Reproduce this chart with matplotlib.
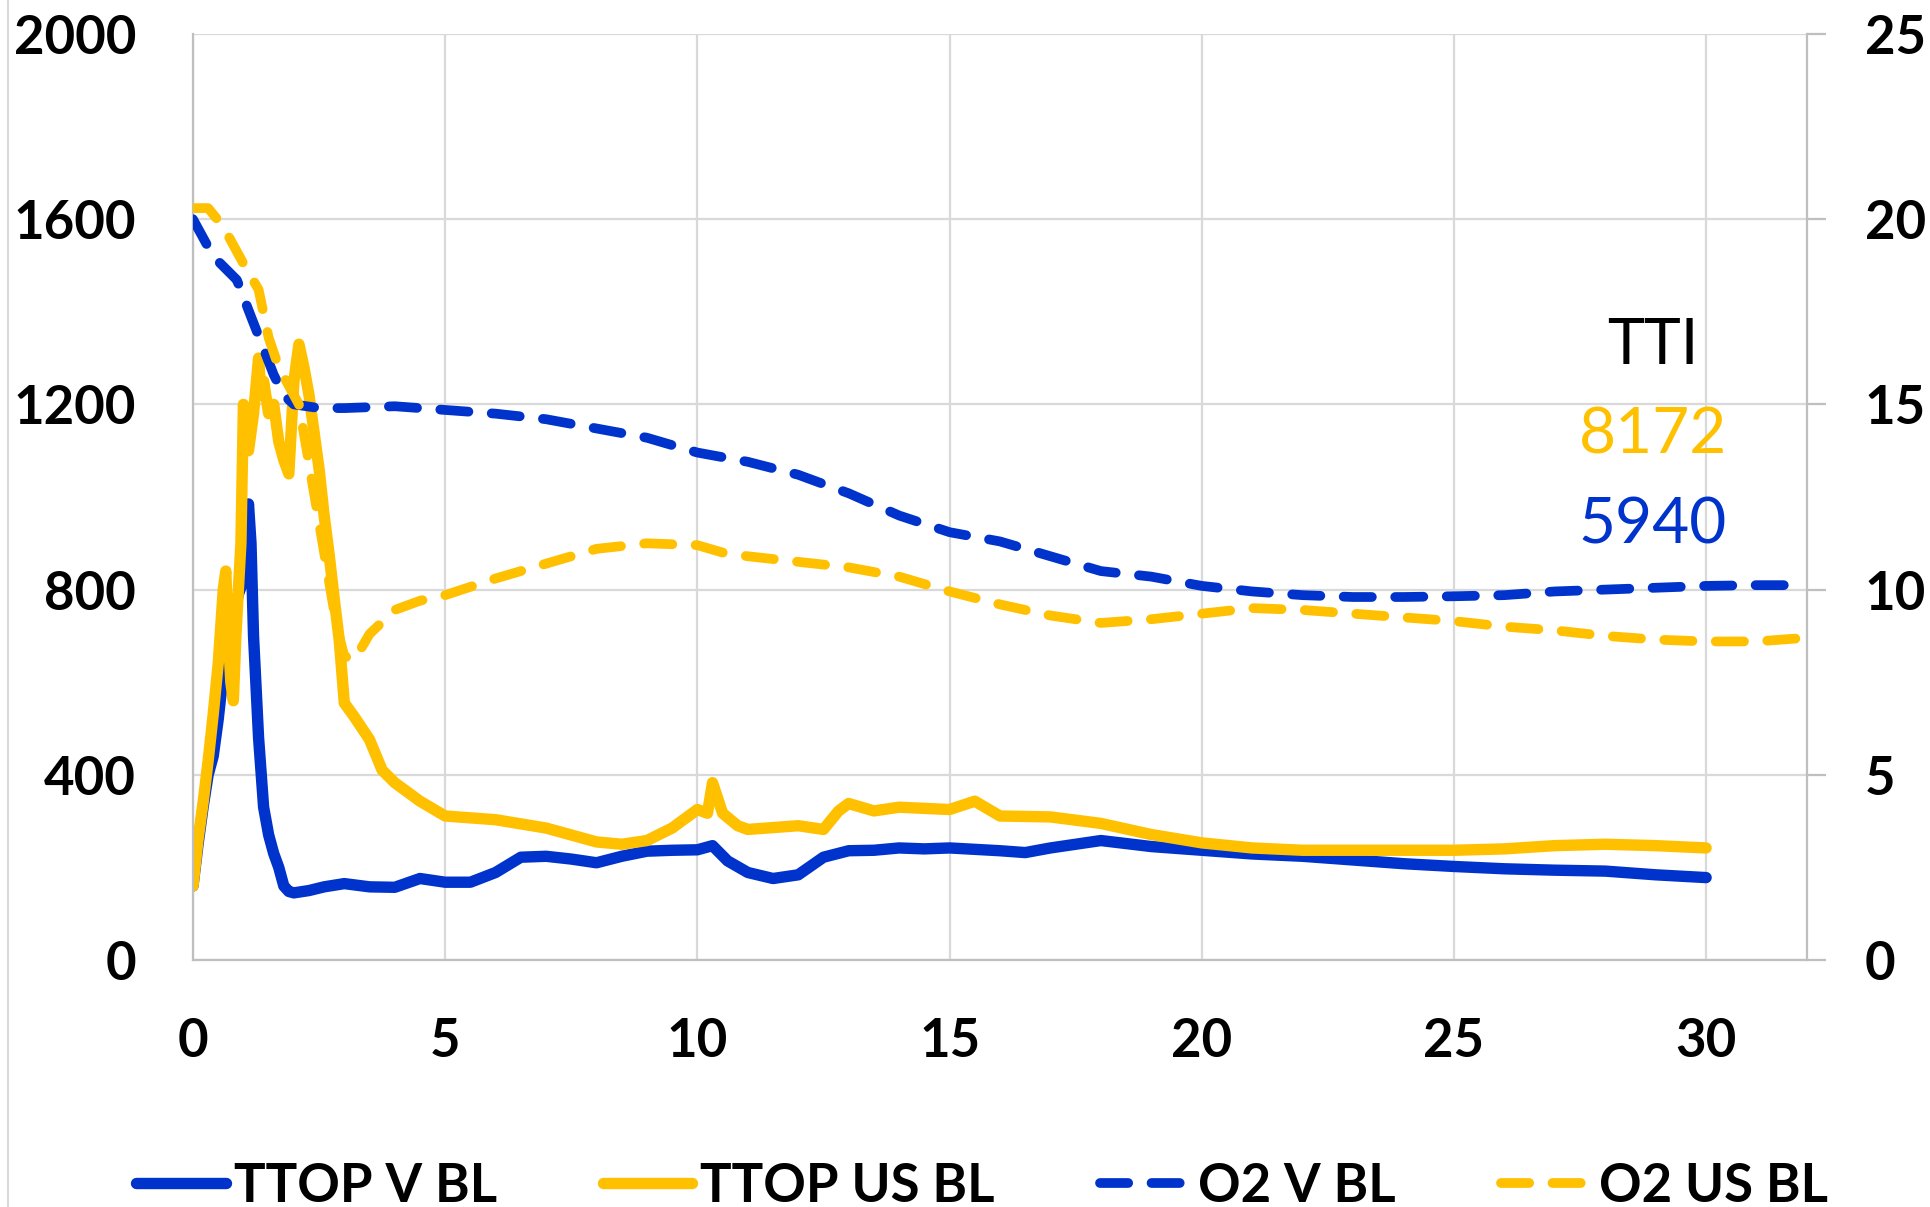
import matplotlib
matplotlib.use("Agg")
import matplotlib.pyplot as plt
from matplotlib.lines import Line2D

plt.rcParams['font.family'] = ['Lato', 'DejaVu Sans']

BLUE = '#0033CC'
GOLD = '#FFC000'
GRID = '#D9D9D9'
SPINE = '#BFBFBF'

# ---- data ----
ttop_v_x = [0, 0.1, 0.2, 0.3, 0.4, 0.5, 0.6, 0.7, 0.8, 0.9, 1.0, 1.05, 1.1, 1.15, 1.2, 1.3, 1.4,
            1.5, 1.6, 1.7, 1.8, 1.9, 2.0, 2.3, 2.6, 3, 3.5, 4, 4.5, 5, 5.5, 6, 6.5, 7, 7.5, 8,
            8.5, 9, 9.5, 10, 10.3, 10.6, 11, 11.5, 12, 12.5, 13, 13.5, 14, 14.5, 15, 16, 16.5,
            17, 17.5, 18, 19, 20, 21, 22, 23, 24, 25, 26, 27, 28, 29, 30]
ttop_v_y = [160, 250, 330, 400, 440, 520, 620, 680, 740, 790, 820, 900, 985, 900, 700, 480, 330,
            270, 230, 200, 160, 148, 145, 150, 158, 165, 158, 157, 176, 168, 168, 189, 222, 224,
            218, 210, 224, 235, 237, 238, 247, 214, 189, 176, 184, 222, 236, 237, 242, 240, 242,
            236, 232, 242, 250, 258, 245, 237, 229, 224, 216, 208, 202, 197, 194, 192, 184, 178]

ttop_us_x = [0, 0.1, 0.2, 0.3, 0.4, 0.5, 0.6, 0.65, 0.7, 0.75, 0.8, 0.85, 0.9, 0.95, 1.0, 1.05,
             1.1, 1.2, 1.3, 1.35, 1.4, 1.5, 1.6, 1.7, 1.8, 1.9, 2.0, 2.1, 2.2, 2.3, 2.4, 2.5,
             2.6, 2.7, 2.8, 2.9, 3.0, 3.2, 3.5, 3.75, 4.0, 4.5, 5, 6, 7, 8, 8.5, 9, 9.5, 10,
             10.2, 10.3, 10.5, 10.8, 11, 12, 12.5, 12.8, 13, 13.5, 14, 15, 15.5, 16, 17, 18, 19,
             20, 21, 22, 23, 24, 25, 26, 27, 28, 29, 30]
ttop_us_y = [160, 260, 340, 430, 530, 640, 800, 840, 700, 600, 560, 700, 800, 900, 1200, 1150,
             1100, 1180, 1300, 1220, 1250, 1180, 1200, 1120, 1080, 1050, 1250, 1330, 1280, 1220,
             1140, 1060, 960, 875, 780, 690, 555, 525, 476, 410, 383, 343, 311, 303, 285, 255,
             250, 258, 285, 325, 317, 383, 317, 290, 282, 290, 282, 322, 338, 322, 330, 325, 343,
             311, 309, 295, 271, 253, 242, 237, 237, 237, 237, 240, 247, 250, 247, 242]

o2_v_x = [0, 0.4, 0.87, 1.17, 1.43, 1.6, 1.8, 2.0, 2.5, 3, 4, 5, 6, 7, 8, 9, 10, 11, 12, 13, 14,
          15, 16, 17, 18, 19, 20, 21, 22, 23, 24, 25, 26, 27, 28, 29, 30, 31, 32]
o2_v_y = [20.0, 19.0, 18.36, 17.3, 16.4, 15.8, 15.25, 15.0, 14.9, 14.9, 14.95, 14.85, 14.75,
          14.6, 14.35, 14.1, 13.7, 13.45, 13.1, 12.6, 12.0, 11.55, 11.3, 10.9, 10.5, 10.35,
          10.1, 9.95, 9.85, 9.8, 9.8, 9.82, 9.85, 9.95, 10.0, 10.05, 10.1, 10.12, 10.12]

o2_us_x = [0, 0.3, 0.6, 1.0, 1.3, 1.5, 1.7, 1.9, 2.1, 2.3, 2.5, 2.7, 2.85, 3.0, 3.2, 3.5, 4,
           4.5, 5, 6, 7, 8, 9, 10, 10.5, 11, 12, 13, 14, 15, 16, 17, 18, 19, 20, 21, 22, 23,
           24, 25, 26, 27, 28, 29, 30, 31, 32]
o2_us_y = [20.3, 20.3, 19.8, 18.8, 18.1, 16.8, 16.0, 15.5, 15.0, 13.4, 11.8, 10.2, 9.0, 8.2,
           8.1, 8.8, 9.45, 9.7, 9.85, 10.3, 10.7, 11.1, 11.25, 11.2, 11.0, 10.9, 10.75, 10.6,
           10.35, 9.95, 9.6, 9.3, 9.1, 9.2, 9.35, 9.5, 9.45, 9.35, 9.25, 9.15, 9.0, 8.9, 8.75,
           8.65, 8.6, 8.6, 8.7]

series_labels = ['TTOP V BL', 'TTOP US BL', 'O2 V BL', 'O2 US BL']
tti_values = ['8172', '5940']

left_ticks = [0, 400, 800, 1200, 1600, 2000]
right_ticks = [0, 5, 10, 15, 20, 25]
x_ticks = [0, 5, 10, 15, 20, 25, 30]

# ---- figure ----
fig = plt.figure(figsize=(19.31, 12.07), dpi=100)
ax = fig.add_axes([193 / 1931, 1 - 960 / 1207, (1807 - 193) / 1931, (960 - 34) / 1207])
ax2 = ax.twinx()

LW = 8.2
DLW = 7.0
DASH = (2.9, 2.4)

l1, = ax.plot(ttop_v_x, ttop_v_y, color=BLUE, lw=LW, solid_joinstyle='round',
              solid_capstyle='round', label=series_labels[0])
l2, = ax.plot(ttop_us_x, ttop_us_y, color=GOLD, lw=LW, solid_joinstyle='round',
              solid_capstyle='round', label=series_labels[1])
l3, = ax2.plot(o2_v_x, o2_v_y, color=BLUE, lw=DLW, dashes=DASH, dash_capstyle='round',
               dash_joinstyle='round', label=series_labels[2])
l4, = ax2.plot(o2_us_x, o2_us_y, color=GOLD, lw=DLW, dashes=DASH, dash_capstyle='round',
               dash_joinstyle='round', label=series_labels[3])

ax.set_xlim(0, 32)
ax.set_ylim(0, 2000)
ax2.set_ylim(0, 25)
ax.set_xticks(x_ticks)
ax.set_yticks(left_ticks)
ax2.set_yticks(right_ticks)

ax.grid(True, color=GRID, lw=1.6)
ax.set_axisbelow(True)

for sp in ['top']:
    ax.spines[sp].set_visible(False)
    ax2.spines[sp].set_visible(False)
for sp in ['left', 'bottom']:
    ax.spines[sp].set_color(SPINE)
    ax.spines[sp].set_linewidth(1.6)
ax.spines['right'].set_visible(False)
ax2.spines['left'].set_visible(False)
ax2.spines['bottom'].set_visible(False)
ax2.spines['right'].set_color(SPINE)
ax2.spines['right'].set_linewidth(1.6)

ax.tick_params(axis='both', length=0, pad=41)
ax2.tick_params(axis='y', length=13.7, width=1.6, color=SPINE, direction='out', pad=28)
for lab in ax.get_xticklabels() + ax.get_yticklabels() + ax2.get_yticklabels():
    lab.set_fontsize(38)
    lab.set_fontweight('bold')

# TTI annotation
ax.text(1653 / 1931, 1 - 346 / 1207, 'TTI', transform=fig.transFigure, ha='center',
        va='center', fontsize=45, color='black')
ax.text(1653 / 1931, 1 - 436 / 1207, tti_values[0], transform=fig.transFigure, ha='center',
        va='center', fontsize=46, color=GOLD)
ax.text(1653 / 1931, 1 - 525 / 1207, tti_values[1], transform=fig.transFigure, ha='center',
        va='center', fontsize=46, color=BLUE)

leg = fig.legend(handles=[l1, l2, l3, l4], loc='center', ncol=4,
                 bbox_to_anchor=(982 / 1931, 1 - 1186 / 1207), frameon=False,
                 prop=dict(size=38, weight='bold'), handlelength=1.7, handletextpad=0.15,
                 columnspacing=2.0, borderpad=0, borderaxespad=0)

fig.add_artist(Line2D([8 / 1931, 8 / 1931], [0, 1], transform=fig.transFigure,
                      color=GRID, lw=1.5))

fig.savefig('out.png', dpi=100)
